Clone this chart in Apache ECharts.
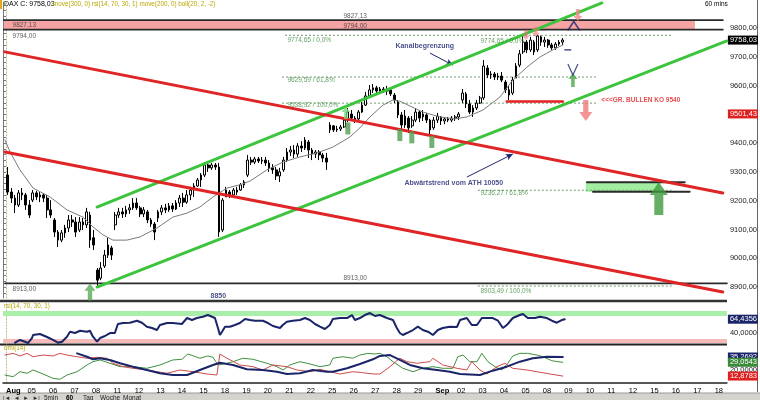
<!DOCTYPE html>
<html><head><meta charset="utf-8">
<script src="https://cdn.jsdelivr.net/npm/echarts@6/dist/echarts.min.js"></script>
<style>html,body{margin:0;padding:0;background:#fff}#c{width:760px;height:400px}</style>
</head><body><div id="c"></div>
<script>
// ================= DATA =================
const dayLabels = ['Aug','05','06','07','08','11','12','13','14','15','18','19','20','21','22','25','26','27','28','29','Sep','02','03','04','05','08','09','10','11','12','15','16','17','18'];
const barsPerDay = 6;
// hourly-ish candles: [open, close, low, high]
const candles = [
 [9289,9230,9220,9317],[9230,9209,9192,9244],[9209,9185,9157,9220],[9185,9227,9178,9237],[9227,9220,9202,9244],[9220,9185,9168,9227],
 [9185,9150,9140,9202],[9202,9227,9195,9237],[9227,9213,9202,9234],[9213,9220,9195,9230],[9220,9209,9195,9227],[9209,9168,9140,9220],
 [9168,9150,9140,9202],[9133,9091,9074,9140],[9091,9063,9039,9098],[9063,9088,9056,9098],[9088,9105,9071,9116],[9105,9133,9091,9150],
 [9133,9126,9109,9150],[9126,9091,9074,9143],[9098,9126,9091,9143],[9126,9116,9098,9140],[9116,9161,9105,9175],[9150,9063,9036,9161],
 [9071,9046,9029,9098],[8959,8924,8903,8966],[8931,8966,8924,8987],[8973,9011,8966,9029],[9011,9046,9001,9071],[9036,9011,8994,9043],
 [9116,9150,9098,9161],[9150,9161,9140,9175],[9161,9154,9140,9175],[9154,9168,9143,9182],[9168,9175,9154,9189],[9175,9192,9168,9209],
 [9192,9175,9168,9209],[9175,9154,9143,9182],[9154,9168,9143,9178],[9161,9133,9122,9168],[9133,9119,9109,9140],[9119,9091,9063,9126],
 [9140,9161,9126,9168],[9161,9175,9150,9185],[9175,9168,9157,9189],[9168,9182,9161,9192],[9182,9171,9161,9192],[9171,9192,9168,9202],
 [9192,9209,9178,9220],[9209,9195,9178,9227],[9195,9220,9189,9237],[9220,9237,9202,9248],[9237,9251,9213,9261],[9251,9272,9248,9279],
 [9272,9289,9248,9296],[9289,9324,9282,9334],[9324,9314,9300,9334],[9314,9324,9307,9331],[9324,9317,9307,9331],[9317,9091,9074,9331],
 [9098,9202,9091,9209],[9213,9237,9213,9248],[9230,9220,9209,9237],[9220,9237,9213,9244],[9237,9230,9220,9248],[9237,9255,9234,9261],
 [9255,9265,9244,9272],[9289,9341,9282,9359],[9341,9334,9324,9352],[9334,9345,9327,9352],[9345,9338,9331,9352],[9338,9341,9327,9352],
 [9341,9331,9321,9352],[9331,9314,9300,9341],[9314,9307,9293,9327],[9307,9286,9272,9317],[9286,9300,9265,9314],[9307,9341,9300,9352],
 [9341,9369,9334,9383],[9369,9376,9355,9390],[9376,9362,9348,9393],[9362,9390,9352,9400],[9390,9383,9369,9407],[9383,9411,9376,9421],
 [9404,9376,9348,9411],[9376,9362,9341,9383],[9362,9369,9348,9376],[9369,9359,9341,9376],[9359,9348,9334,9366],[9348,9334,9307,9366],
 [9446,9463,9435,9473],[9460,9446,9439,9463],[9446,9449,9439,9460],[9449,9456,9442,9463],[9456,9480,9453,9487],[9480,9508,9473,9522],
 [9501,9487,9477,9515],[9487,9480,9470,9494],[9484,9508,9477,9515],[9508,9532,9505,9543],[9532,9564,9529,9578],[9564,9585,9557,9602],
 [9585,9592,9574,9605],[9592,9581,9574,9599],[9581,9588,9571,9595],[9588,9581,9574,9595],[9581,9585,9567,9599],[9585,9571,9564,9588],
 [9567,9550,9539,9574],[9543,9498,9487,9550],[9498,9463,9446,9508],[9463,9494,9453,9515],[9487,9453,9435,9494],[9460,9480,9453,9494],
 [9480,9508,9473,9522],[9508,9487,9473,9515],[9491,9501,9477,9515],[9498,9480,9470,9505],[9480,9446,9428,9484],[9453,9480,9446,9491],
 [9480,9494,9470,9505],[9491,9477,9463,9494],[9477,9484,9466,9491],[9484,9480,9473,9491],[9480,9487,9473,9494],[9487,9491,9477,9498],
 [9491,9501,9480,9508],[9550,9574,9539,9588],[9571,9536,9522,9578],[9536,9508,9501,9550],[9508,9522,9491,9532],[9522,9539,9515,9550],
 [9539,9557,9536,9564],[9557,9668,9550,9689],[9661,9637,9626,9671],[9637,9640,9623,9650],[9640,9630,9619,9647],[9630,9633,9619,9644],
 [9633,9619,9612,9647],[9612,9585,9574,9619],[9585,9567,9550,9599],[9574,9619,9567,9630],[9626,9668,9626,9678],[9671,9710,9664,9724],
 [9717,9751,9710,9772],[9751,9724,9713,9758],[9724,9758,9717,9769],[9751,9717,9706,9758],[9724,9772,9717,9774.65],[9769,9751,9738,9774],
 [9751,9758,9734,9769],[9758,9741,9731,9762],[9741,9731,9724,9748],[9731,9744,9724,9751],[9744,9751,9738,9758],[9751,9758.03,9741,9765]
];
const lastClose = 9758.03;
const cursorPrice = 9501.43;
const priceTicks = [8900,9000,9100,9200,9300,9400,9500,9600,9700,9800];
// moving average [tradingDay, price]
const movingAvg = [[-0.05,9411],[0.19,9369],[0.65,9307],[1.26,9244],[2.05,9213],[2.84,9168],[3.58,9143],[4.05,9109],[4.52,9081],[4.98,9063],[5.63,9063],[6.24,9074],[7.03,9105],[7.77,9143],[8.43,9157],[9.03,9178],[9.64,9213],[10.29,9244],[10.89,9255],[11.36,9268],[12.15,9307],[12.9,9334],[13.69,9352],[14.48,9366],[15.22,9386],[16.01,9421],[16.48,9453],[16.95,9491],[17.55,9532],[18.02,9550],[18.34,9546],[18.81,9529],[19.41,9508],[20.2,9491],[20.9,9484],[21.46,9491],[22.21,9515],[23.0,9560],[23.6,9619],[24.26,9664],[24.86,9699],[25.47,9724],[25.93,9741]];
// RSI(14) [tradingDay, value]
const rsi = [[0.42,23.6],[0.65,28.3],[0.88,25.3],[1.02,23],[1.21,31.7],[1.26,37],[1.58,38.7],[1.91,33.5],[2.19,28.3],[2.42,23.6],[2.61,25.3],[2.84,34],[2.98,42.7],[3.21,40.4],[3.45,44.4],[3.77,42.7],[3.91,44.4],[4.05,34],[4.24,25.3],[4.38,31.7],[4.61,35.2],[4.84,40.4],[5.07,40.4],[5.21,56.1],[5.45,57.8],[5.77,58.3],[6.1,61.8],[6.33,58.3],[6.56,51.4],[6.8,49.1],[7.03,45.6],[7.17,54.3],[7.5,57.8],[7.77,57.8],[8.19,56.1],[8.43,66.5],[8.66,63],[8.89,66.5],[9.17,68.8],[9.4,71.7],[9.73,66.5],[9.87,49.1],[9.96,37],[10.06,42.7],[10.2,51.4],[10.43,51.4],[10.66,54.3],[10.89,57.8],[11.13,64.8],[11.36,63],[11.59,61.8],[11.96,61.8],[12.2,57.8],[12.43,52.6],[12.76,49.1],[12.89,54.3],[13.08,60.1],[13.36,61.8],[13.69,63],[13.92,66.5],[14.15,63],[14.39,56.1],[14.62,51.4],[14.85,47.4],[15.08,54.3],[15.22,64.8],[15.55,66.5],[15.88,66.5],[16.11,71.7],[16.25,63],[16.48,66.5],[16.71,71.7],[16.95,75.2],[17.18,70],[17.41,71.7],[17.74,66.5],[18.02,63],[18.2,49.1],[18.34,40.4],[18.48,37],[18.67,40.4],[18.95,45.6],[19.18,51.4],[19.41,45.6],[19.65,42.7],[19.88,37],[20.11,45.6],[20.34,49.1],[20.67,51.4],[21.0,50.9],[21.14,63],[21.46,66.5],[21.69,54.3],[21.93,54.3],[22.16,66.5],[22.39,66.5],[22.67,66.5],[22.91,61.8],[23.14,49.1],[23.32,54.3],[23.6,66.5],[23.93,71.7],[24.07,73.5],[24.3,66.5],[24.63,66.5],[24.86,68.8],[25.19,66.5],[25.42,61.8],[25.65,58.3],[25.88,63],[26.02,64.4356]];
const rsiNow = 64.4356;
// DMI(14)
const adx = [[3.31,39.6],[3.77,35.6],[4.05,32.6],[4.38,33.8],[4.84,31.8],[5.31,27.9],[5.91,23.9],[6.56,20],[7.17,16.1],[7.77,14.1],[8.43,14.1],[9.03,20],[9.64,25.9],[9.96,28.6],[10.57,25.9],[11.22,20.8],[11.96,20],[12.62,18],[13.08,15.3],[13.69,16.1],[14.29,20],[14.94,18],[15.22,18],[15.88,22],[16.48,27.1],[17.09,32.6],[17.41,36.5],[17.88,37.6],[18.34,31.8],[18.81,25.9],[19.41,22],[20.07,20],[20.67,18],[21.14,15.3],[22.07,14.1],[22.67,19.2],[23.32,23.9],[23.93,29.8],[24.53,33.8],[25.19,35.6],[25.93,35.2692]];
const diPlus = [[-0.05,14.1],[0.33,12.1],[0.65,18],[0.98,16.1],[1.26,20],[1.72,15.3],[2.19,10.2],[2.51,9.1],[2.84,14.1],[3.31,18],[3.77,25.9],[4.05,29.8],[4.38,31.8],[4.84,27.9],[5.31,23.9],[5.91,23.9],[6.56,22],[7.17,25.9],[7.77,31.8],[8.19,32.6],[8.47,38.8],[9.03,33.8],[9.4,36.5],[9.64,34.9],[9.87,25.9],[10.29,27.9],[10.57,29.8],[11.03,33.8],[11.5,32.6],[12.15,27.9],[12.62,23.9],[12.9,20],[13.22,25.9],[13.69,29.8],[14.15,27.1],[14.62,23.9],[15.08,25.9],[15.22,33.8],[15.69,35.6],[16.15,33.8],[16.48,37.6],[16.85,39.6],[17.18,38.8],[17.41,39.6],[17.74,35.6],[18.02,29.8],[18.48,22],[18.95,18],[19.41,22],[19.88,23.9],[20.34,22],[20.81,22],[21.04,35.6],[21.28,37.6],[21.6,29.8],[21.93,29.8],[22.16,39.6],[22.44,29.8],[22.77,23.9],[23.09,20],[23.37,27.9],[23.6,36.5],[23.93,39.6],[24.3,39.6],[24.72,37.6],[25.0,35.6],[25.42,30.9],[25.7,29.8],[25.93,29.0543]];
const diMinus = [[-0.05,37.6],[0.33,39.6],[0.65,36.5],[0.98,39.6],[1.26,35.6],[1.72,37.6],[2.19,36.5],[2.51,39.6],[2.84,37.6],[3.31,35.6],[3.77,33.8],[4.24,34.9],[4.7,33.8],[4.98,27.9],[5.45,23.9],[5.91,22],[6.56,20],[7.03,18],[7.5,16.1],[8.1,20],[8.71,18],[9.36,15.3],[9.82,14.1],[9.96,38.8],[10.29,33.8],[10.89,25.9],[11.5,23.9],[11.96,20],[12.43,25.9],[13.08,23.9],[13.55,20],[14.15,18],[14.62,20.8],[15.08,18],[15.55,15.3],[16.15,18],[16.62,16.8],[17.09,15.3],[17.41,15.3],[17.88,23.9],[18.34,33.8],[18.67,29.8],[19.13,27.9],[19.74,29.8],[19.88,33.8],[20.34,25.9],[21.0,22],[21.46,20],[21.69,29.8],[22.07,20],[22.39,15.3],[22.86,23.9],[23.23,27.9],[23.6,22],[24.26,20],[24.72,18],[25.33,15.3],[25.93,12.8783]];
const adxNow = 35.2692, diPlusNow = 29.0543, diMinusNow = 12.8783;
const rsiTicks = [40], dmiTicks = [20];
// drawn levels: [fromDay, toDay, price]
const resistanceBand = [-0.1, 32.08, 9794.00, 9827.13];
const blackLevels = [[-0.1,33.38,9827.13],[-0.1,33.38,9794.00],[-0.05,33.57,8913.00],[27.05,31.61,9264],[27.33,31.84,9231]];
const fibLines = [[12.99,31.0,9774.65],[12.85,27.56,9629.59],[12.85,27.51,9538.92],[21.97,31.0,9236.27],[21.97,31.0,8903.49]];
const koLine = [23.32, 25.93, 9545];
const targetZone = [27.0, 30.45, 9231, 9264];
// trend channels: [[day, price], [day, price]]
const greenChannel = [[[4.24,9178],[27.75,9887]], [[4.24,8900],[33.57,9755]]];
const redChannel = [[[-0.05,9717],[33.38,9227]], [[-0.05,9369],[33.38,8883]]];
// text annotations: [day, price, text, kind]
const notes = [
 [0.28,9810.4,'9827,13','lvl'],[0.28,9772.2,'9794,00','lvl'],[15.69,9840,'9827,13','lvl'],[15.69,9807,'9794,00','lvl'],
 [0.28,8893,'8913,00','lvl'],[15.69,8931.4,'8913,00','lvl'],
 [13.08,9755.9,'9774,65 / 0,0%','fib'],[13.08,9619,'9629,59 / 61,8%','fib'],[13.08,9532.5,'9538,92 / 100,0%','fib'],
 [22.07,9753,'9774,65 / 0,0%','fib'],[22.07,9226.7,'9236,27 / 61,8%','fib'],[22.07,8886,'8903,49 / 100,0%','fib'],
 [18.11,9737.5,'Kanalbegrenzung','navy'],[18.53,9261.5,'Abwärtstrend vom ATH 10050','navy'],[9.5,8870,'8850','navy'],
 [27.7,9550,'<<<GR. BULLEN KO 9540','red']
];
// pointer arrows: [[from], [to]]
const pointers = [[[19.74,9713],[20.81,9671]], [[21.46,9282],[23.6,9362]]];
// chart markers: [day, price, kind]
const markers = [
 [30.40,9207.6,'bigUp'],[26.40,9619,'up'],[3.91,8883,'upLeft'],[15.83,9505,'upLight'],
 [15.92,9451,'bar'],[18.34,9428,'bar'],[18.90,9420,'bar'],[19.83,9404,'bar'],
 [27.0,9513.4,'down'],[26.63,9845,'downSmall'],[24.21,9776,'downFaint'],[24.67,9786,'downFaint'],
 [26.44,9807,'peak'],[26.40,9656,'vee'],[26.16,9724,'dash']
];

// ================= CHART =================
const FONT = '"Liberation Sans", Arial, sans-serif';
const NAVY = '#1b2470', OLIVE = '#b9a800';
const X0 = -0.14, X1 = 33.57;
const fmt2 = v => v.toFixed(2).replace('.', ',');
const fmt4 = v => v.toFixed(4).replace('.', ',');
const dayOf = i => Math.floor(i / barsPerDay) + ((i % barsPerDay) + 0.5) / barsPerDay;
const candleData = candles.map((c, i) => [dayOf(i), c[0], c[1], c[2], c[3]]);

const line = (data, color, width, extra) => Object.assign({
  type: 'line', xAxisIndex: 0, yAxisIndex: 0, data, symbol: 'none', silent: true,
  lineStyle: { color, width, cap: 'round' }, z: 5, animation: false
}, extra || {});

const tag = (v, bg, f) => ({
  yAxis: v, lineStyle: { color: 'rgba(0,0,0,0)', width: 0 },
  label: { show: true, position: 'end', distance: 1, formatter: f(v), backgroundColor: bg, color: '#fff',
    fontSize: 7.5, fontFamily: FONT, padding: [1, 1, 0, 2] }
});

const arrowUp = 'path://M5,0L10,6L7,6L7,14L3,14L3,6L0,6Z';
const arrowBig = 'path://M9,0L18,13L13.5,13L13.5,33L4.5,33L4.5,13L0,13Z';
const markerStyle = {
  bigUp: { symbol: arrowBig, size: [18, 33], item: { color: '#3e9a3e' } },
  up: { symbol: arrowUp, size: [9, 14], item: { color: '#4aa84a' } },
  upLeft: { symbol: arrowUp, size: [11, 17], item: { color: '#58aa58' } },
  upLight: { symbol: arrowUp, size: [9, 12], item: { color: '#74d874' } },
  bar: { symbol: 'rect', size: [5, 12], item: { color: '#4f9d4f' } },
  down: { symbol: arrowUp, size: [13, 21], rotate: 180, item: { color: '#f07878' } },
  downSmall: { symbol: arrowUp, size: [9, 12], rotate: 180, item: { color: '#f08a8a' } },
  downFaint: { symbol: arrowUp, size: [8, 10], rotate: 180, item: { color: 'rgba(235,110,110,0.75)' } },
  peak: { symbol: 'path://M0,10L5,0L10,10', size: [12, 9], item: { color: 'rgba(0,0,0,0)', borderColor: NAVY, borderWidth: 1.5 } },
  vee: { symbol: 'path://M0,0L5,10L10,0', size: [10, 11], item: { color: 'rgba(0,0,0,0)', borderColor: NAVY, borderWidth: 1.3 } },
  dash: { symbol: 'rect', size: [7, 1.5], item: { color: NAVY } }
};
const noteStyle = {
  lvl: { color: '#333', fontSize: 6.5, fontWeight: 'normal' },
  fib: { color: '#3c8a3c', fontSize: 6.5, fontWeight: 'normal' },
  navy: { color: NAVY, fontSize: 7, fontWeight: 'bold' },
  red: { color: '#e02020', fontSize: 6.5, fontWeight: 'bold' }
};

const series = [];
// resistance band + black levels
series.push(line([[resistanceBand[0], resistanceBand[3]], [resistanceBand[0], resistanceBand[3]]], 'rgba(0,0,0,0)', 0, {
  z: 1,
  markArea: { silent: true, itemStyle: { color: '#f5a3a3' },
    data: [[{ coord: [resistanceBand[0], resistanceBand[3]] }, { coord: [resistanceBand[1], resistanceBand[2]] }],
           [{ coord: [targetZone[0], targetZone[3]], itemStyle: { color: 'rgba(130,232,130,0.75)' } }, { coord: [targetZone[1], targetZone[2]] }]] }
}));
blackLevels.forEach(l => series.push(line([[l[0], l[2]], [l[1], l[2]]], '#2a2a2a', 1.8, { z: 2 })));
fibLines.forEach(l => series.push(line([[l[0], l[2]], [l[1], l[2]]], '#6f9a6f', 1, { z: 2, lineStyle: { color: '#6f9a6f', width: 1, type: [2, 2] } })));
// candles
series.push({
  type: 'candlestick', xAxisIndex: 0, yAxisIndex: 0, data: candleData, encode: { x: 0, y: [1, 2, 3, 4] },
  barWidth: 2.2, silent: true, z: 3,
  itemStyle: { color: '#ffffff', color0: '#000000', borderColor: '#000000', borderColor0: '#000000', borderWidth: 1 },
  markLine: { silent: true, symbol: 'none', animation: false,
    data: [tag(lastClose, '#000000', fmt2), tag(cursorPrice, '#e02020', fmt2)] }
});
// moving average + pointer arrows
series.push(line(movingAvg, '#7a7a7a', 1, { z: 4,
  markLine: { silent: true, symbol: ['none', 'arrow'], symbolSize: [5, 7], animation: false,
    lineStyle: { color: NAVY, width: 1, type: 'solid' }, label: { show: false },
    data: pointers.map(p => [{ coord: p[0] }, { coord: p[1] }]) } }));
// channels
greenChannel.forEach(c => series.push(line(c, '#3cc43c', 3, { z: 5 })));
redChannel.forEach(c => series.push(line(c, '#df2525', 3, { z: 5 })));
series.push(line([[koLine[0], koLine[2]], [koLine[1], koLine[2]]], '#e52020', 2.5, { z: 5 }));
// markers
Object.keys(markerStyle).forEach(k => {
  const s = markerStyle[k];
  series.push({ type: 'scatter', xAxisIndex: 0, yAxisIndex: 0, silent: true, z: 7, animation: false,
    data: markers.filter(m => m[2] === k).map(m => [m[0], m[1]]),
    symbol: s.symbol, symbolSize: s.size, symbolRotate: s.rotate || 0, symbolKeepAspect: false, itemStyle: s.item });
});
// notes
Object.keys(noteStyle).forEach(k => {
  const s = noteStyle[k];
  series.push({ type: 'scatter', xAxisIndex: 0, yAxisIndex: 0, silent: true, z: 8, animation: false,
    data: notes.filter(n => n[3] === k).map(n => [n[0], n[1], n[2]]),
    symbolSize: 1, itemStyle: { color: 'rgba(0,0,0,0)' },
    label: { show: true, position: 'right', distance: 0, formatter: p => p.value[2],
      color: s.color, fontSize: s.fontSize, fontWeight: s.fontWeight, fontFamily: FONT } });
});
// RSI
series.push(line(rsi, '#1a2468', 2, { xAxisIndex: 1, yAxisIndex: 2, z: 5,
  markArea: { silent: true, data: [
    [{ yAxis: 70, itemStyle: { color: '#a9eea9' } }, { yAxis: 78.7 }],
    [{ yAxis: 23, itemStyle: { color: '#f5baba' } }, { yAxis: 30 }]] },
  markLine: { silent: true, symbol: 'none', animation: false, data: [tag(rsiNow, '#1a2468', fmt4)] } }));
// DMI
series.push(line(diPlus, '#3f8f3f', 1, { xAxisIndex: 2, yAxisIndex: 3, z: 4 }));
series.push(line(diMinus, '#cf4a4a', 1, { xAxisIndex: 2, yAxisIndex: 3, z: 4 }));
series.push(line(adx, '#1a2468', 2, { xAxisIndex: 2, yAxisIndex: 3, z: 5,
  markLine: { silent: true, symbol: 'none', animation: false,
    data: [tag(adxNow, '#1a2468', fmt4), tag(diPlusNow, '#3a8a3a', fmt4), tag(diMinusNow, '#e02020', fmt4)] } }));

const xAx = (i, show) => ({
  type: 'value', gridIndex: i, min: X0, max: X1, splitLine: { show: false },
  axisLine: { show: show, lineStyle: { color: '#222', width: 1.5 } }, axisTick: { show: false },
  axisLabel: { show: show, customValues: dayLabels.map((_, k) => k), margin: 4, align: 'left',
    fontSize: 7.5, color: '#000', fontFamily: FONT,
    formatter: v => { const t = dayLabels[Math.round(v)]; return /^[A-Z]/.test(t) ? '{b|' + t + '}' : t; },
    rich: { b: { fontWeight: 'bold', fontSize: 7.5, fontFamily: FONT } } }
});
const dotted = { show: true, lineStyle: { color: '#b5b58a', width: 1, type: [1, 2] } };
const minorTicks = [];
for (let v = 8880; v <= 9880; v += 20) minorTicks.push(v);

const option = {
  animation: false,
  textStyle: { fontFamily: FONT },
  grid: [
    { left: 3, right: 33, top: 2, height: 296 },
    { left: 3, right: 33, top: 304, height: 40 },
    { left: 3, right: 33, top: 345, height: 38 }
  ],
  xAxis: [xAx(0, false), xAx(1, false), xAx(2, true)],
  yAxis: [
    { type: 'value', gridIndex: 0, position: 'right', min: 8861.9, max: 9890.3, splitLine: { show: false },
      axisLine: dotted, axisTick: { show: false },
      axisLabel: { customValues: priceTicks, formatter: fmt2, fontSize: 7.5, color: '#222', margin: 3, fontFamily: FONT } },
    { type: 'value', gridIndex: 0, position: 'left', min: 8861.9, max: 9890.3, splitLine: { show: false },
      axisLine: { show: true, lineStyle: { color: '#777', width: 1 } },
      axisTick: { show: true, inside: true, length: 3, customValues: minorTicks, lineStyle: { color: '#777' } },
      axisLabel: { show: false } },
    { type: 'value', gridIndex: 1, position: 'right', min: 21.3, max: 90.9, splitLine: { show: false },
      axisLine: dotted, axisTick: { show: false },
      axisLabel: { customValues: rsiTicks, formatter: fmt4, fontSize: 7.5, color: '#222', margin: 3, fontFamily: FONT } },
    { type: 'value', gridIndex: 2, position: 'right', min: 4.7, max: 49.4, splitLine: { show: false },
      axisLine: dotted, axisTick: { show: false },
      axisLabel: { customValues: dmiTicks, formatter: fmt4, fontSize: 7.5, color: '#222', margin: 3, fontFamily: FONT } }
  ],
  graphic: [
    { type: 'rect', shape: { x: 0, y: 0, width: 2, height: 9 }, style: { fill: '#e6a817' } },
    { type: 'text', x: 4, y: 1, style: { text: 'DAX C: ' + fmt2(lastClose), font: '7px ' + FONT, fill: '#000' } },
    { type: 'text', x: 53, y: 1.5, style: { text: 'move(300, 0) rsi(14, 70, 30, 1) move(200, 0) boll(20, 2, -2)', font: '6.3px ' + FONT, fill: OLIVE } },
    { type: 'text', x: 705, y: 1, style: { text: '60 mins', font: '6.5px ' + FONT, fill: '#000' } },
    { type: 'line', shape: { x1: 0, y1: 301, x2: 727, y2: 301 }, style: { stroke: '#333', lineWidth: 2.5 } },
    { type: 'line', shape: { x1: 0, y1: 344.5, x2: 727, y2: 344.5 }, style: { stroke: '#222', lineWidth: 2 } },
    { type: 'text', x: 4, y: 303.5, style: { text: 'rsi(14, 70, 30, 1)', font: '6.3px ' + FONT, fill: OLIVE } },
    { type: 'text', x: 4, y: 345.5, style: { text: 'dmi(14)', font: '6.3px ' + FONT, fill: OLIVE } },
    { type: 'line', shape: { x1: 757.5, y1: 0, x2: 757.5, y2: 392 }, style: { stroke: '#666', lineWidth: 1 } },
    { type: 'rect', shape: { x: 0, y: 393, width: 760, height: 7 }, style: { fill: '#d6d3ce' } },
    { type: 'line', shape: { x1: 0, y1: 393, x2: 760, y2: 393 }, style: { stroke: '#999', lineWidth: 1 } },
    { type: 'text', x: 3, y: 395, style: { text: '|◄  ◄  ►  ►|', font: '6px ' + FONT, fill: '#333' } },
    { type: 'text', x: 44, y: 395, style: { text: '5min', font: '6.5px ' + FONT, fill: '#222' } },
    { type: 'text', x: 66, y: 395, style: { text: '60', font: 'bold 6.5px ' + FONT, fill: '#000' } },
    { type: 'text', x: 83, y: 395, style: { text: 'Tag', font: '6.5px ' + FONT, fill: '#222' } },
    { type: 'text', x: 100, y: 395, style: { text: 'Woche', font: '6.5px ' + FONT, fill: '#222' } },
    { type: 'text', x: 123, y: 395, style: { text: 'Monat', font: '6.5px ' + FONT, fill: '#222' } }
  ],
  series
};
const chart = echarts.init(document.getElementById('c'));
chart.setOption(option);
</script></body></html>
